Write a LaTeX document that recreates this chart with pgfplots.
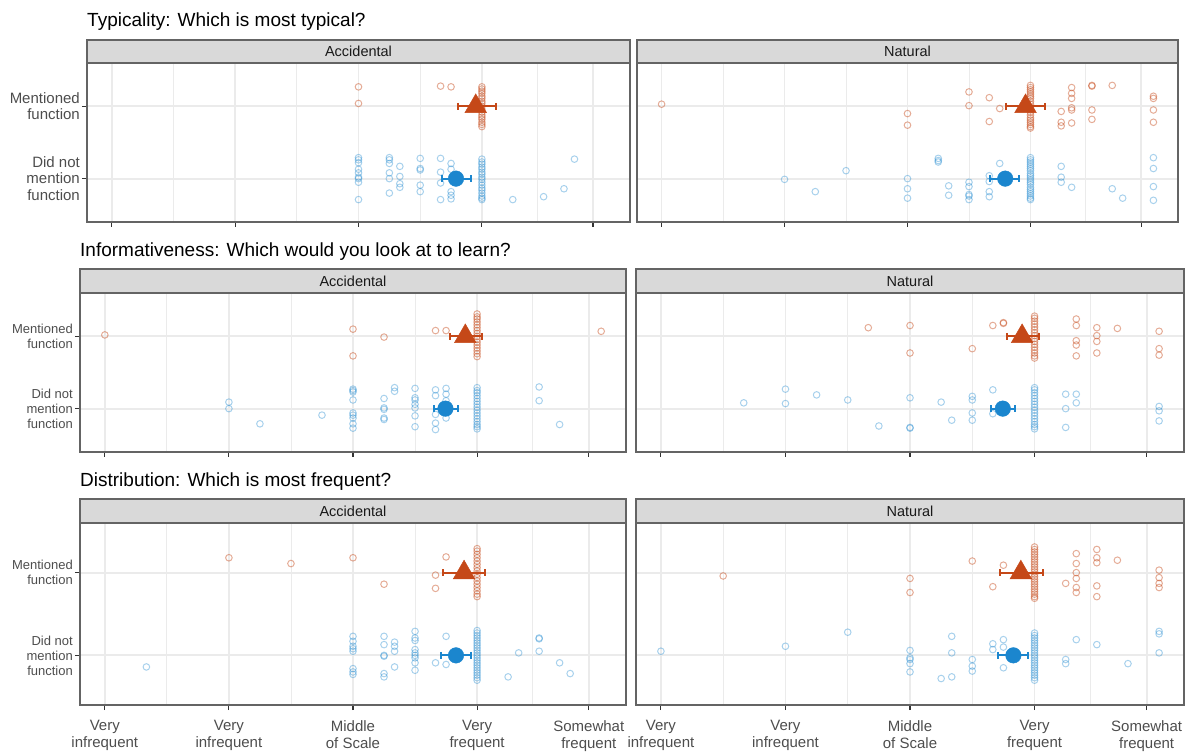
\documentclass[border=0pt]{standalone}
\usepackage{pgfplots}
\pgfplotsset{compat=1.18}
\usepackage{fontspec}
\setmainfont{Liberation Sans}

\definecolor{orangeM}{RGB}{197,72,24}
\definecolor{blueM}{RGB}{27,134,206}
\definecolor{gridgray}{RGB}{235,235,235}
\definecolor{bordergray}{RGB}{100,100,100}
\definecolor{stripgray}{RGB}{217,217,217}
\definecolor{labelgray}{RGB}{77,77,77}
\definecolor{tickgray}{RGB}{51,51,51}

\pgfplotsset{
  facet/.style={
    scale only axis,
    xmin=-0.4, xmax=8.4, ymin=0.4, ymax=2.6,
    xtick={0,2,4,6,7.8}, minor xtick={1,3,5,6.9},
    ytick={1,2},
    tick pos=left, tick align=outside,
    major tick length=5pt, minor tick length=0pt,
    tick style={color=tickgray, line width=1.1pt},
    grid=both,
    major grid style={color=gridgray, line width=1.8pt},
    minor grid style={color=gridgray, line width=0.9pt},
    axis line style={draw=bordergray, line width=1.2pt},
    xticklabels={},
  },
  leftpanel/.style={
    yticklabels={{Did not\\mention\\function},{Mentioned\\function}},
    yticklabel style={align=right, text=labelgray, font=#1, inner sep=2pt},
  },
  rightpanel/.style={yticklabels={}, ytick style={draw=none}},
  bottomrow/.style={
    xticklabels={{Very\\infrequent},{Very\\infrequent},{Middle\\of Scale},{Very\\frequent},{Somewhat\\frequent}},
    xticklabel style={align=center, text=labelgray, font=\fontsize{15}{17}\selectfont, inner sep=2pt, yshift=-8pt},
  },
  jo/.style={only marks, mark=o, mark size=3.3pt,
    mark options={draw=orangeM, draw opacity=0.45, line width=1pt}},
  jb/.style={only marks, mark=o, mark size=3.3pt,
    mark options={draw=blueM, draw opacity=0.38, line width=1pt}},
  barO/.style={orangeM, line width=2pt, mark=|, mark size=3.6pt, mark options={line width=2pt}},
  barB/.style={blueM, line width=2pt, mark=|, mark size=3.6pt, mark options={line width=2pt}},
  meanO/.style={only marks, mark=triangle*, mark size=12.5pt,
    mark options={fill=orangeM, draw=orangeM, line width=0.4pt}},
  meanB/.style={only marks, mark=*, mark size=7.8pt,
    mark options={fill=blueM, draw=blueM, line width=0.4pt}},
}

\newcommand{\strip}[5]{%
  \filldraw[fill=stripgray, draw=bordergray, line width=1.2pt] (#1,#3) rectangle (#2,#4);
  \node[font=\fontsize{14.5}{16}\selectfont, text=black!90] at ({(#1+#2)/2},{(#3+#4)/2}) {#5};}

\begin{document}
\begin{tikzpicture}[x=1pt,y=1pt]
\useasboundingbox (0,0) rectangle (1189,753);

% ---------------- Typicality ----------------
\node[anchor=base west, inner sep=0pt, font=\fontsize{19}{22}\selectfont] at (87,726) {Typicality: Which is most typical?};

\begin{axis}[facet, leftpanel={\fontsize{15}{16.5}\selectfont}, at={(87pt,531pt)}, anchor=south west, width=543pt, height=159pt]
\addplot[jo] coordinates {(4,2.27) (4,2.04) (5.33,2.28) (5.5,2.27)
 (6,2.27) (6,2.24) (6,2.21) (6,2.18) (6,2.14) (6,2.11) (6,2.07) (6,2.04) (6,2.00)
 (6,1.96) (6,1.92) (6,1.88) (6,1.85) (6,1.82) (6,1.78) (6,1.75) (6,1.72)};
\addplot[jb] coordinates {(4,1.29) (4,1.26) (4,1.22) (4,1.13) (4,1.08) (4,1.02) (4,1.00) (4,0.95) (4,0.71)
 (4.5,1.29) (4.5,1.26) (4.5,1.21) (4.5,1.08) (4.5,1.00) (4.5,0.80)
 (4.67,1.17) (4.67,1.03) (4.67,0.93) (4.67,0.88)
 (5,1.28) (5,1.14) (5,1.12) (5,0.91) (5,0.82)
 (5.33,1.28) (5.33,1.09) (5.33,0.94) (5.33,0.71)
 (5.5,1.21) (5.5,1.13) (5.5,0.82) (5.5,0.77) (5.5,0.72)
 (6,1.27) (6,1.23) (6,1.20) (6,1.16) (6,1.13) (6,1.09) (6,1.06) (6,1.02) (6,0.99)
 (6,0.95) (6,0.91) (6,0.87) (6,0.84) (6,0.80) (6,0.76) (6,0.73) (6,0.71)
 (6.5,0.71) (7,0.75) (7.33,0.86) (7.5,1.27)};
\addplot[barB] coordinates {(5.35,1) (5.83,1)};
\addplot[meanB] coordinates {(5.58,1)};
\addplot[barO] coordinates {(5.61,2) (6.23,2)};
\addplot[meanO] coordinates {(5.90,2)};
\end{axis}

\begin{axis}[facet, rightpanel, at={(637pt,531pt)}, anchor=south west, width=541pt, height=159pt]
\addplot[jo] coordinates {(0,2.03) (4,1.90) (4,1.74) (5,2.20) (5,2.01) (5.33,2.12) (5.33,1.79) (5.5,1.97)
 (6,2.29) (6,2.26) (6,2.23) (6,2.20) (6,2.17) (6,2.14) (6,2.11) (6,2.07) (6,2.03) (6,1.99)
 (6,1.95) (6,1.92) (6,1.88) (6,1.84) (6,1.81) (6,1.78) (6,1.75) (6,1.72) (6,1.70)
 (6.5,1.93) (6.5,1.78) (6.5,1.73)
 (6.67,2.26) (6.67,2.18) (6.67,2.11) (6.67,1.98) (6.67,1.95) (6.67,1.77)
 (7,2.29) (7,2.28) (7,1.95) (7,1.82) (7.33,2.29)
 (8,2.14) (8,2.11) (8,1.95) (8,1.78)};
\addplot[jb] coordinates {(2,0.99) (2.5,0.82) (3,1.11) (4,1.00) (4,0.86) (4,0.73)
 (4.5,1.28) (4.5,1.25) (4.5,1.23) (4.67,0.90) (4.67,0.77)
 (5,0.95) (5,0.89) (5,0.78) (5,0.76) (5,0.71)
 (5.33,1.04) (5.33,0.96) (5.33,0.82) (5.33,0.75) (5.5,1.21)
 (6,1.29) (6,1.26) (6,1.23) (6,1.20) (6,1.17) (6,1.14) (6,1.11) (6,1.07) (6,1.04) (6,1.01)
 (6,0.98) (6,0.95) (6,0.92) (6,0.88) (6,0.85) (6,0.82) (6,0.79) (6,0.76) (6,0.73) (6,0.71)
 (6.5,1.17) (6.5,1.02) (6.5,0.95) (6.67,0.88) (7.33,0.86) (7.5,0.73)
 (8,1.29) (8,1.14) (8,0.89) (8,0.70)};
\addplot[barB] coordinates {(5.34,1) (5.81,1)};
\addplot[meanB] coordinates {(5.59,1)};
\addplot[barO] coordinates {(5.61,2) (6.23,2)};
\addplot[meanO] coordinates {(5.92,2)};
\end{axis}

\strip{87}{630}{690}{713}{Accidental}
\strip{637}{1178}{690}{713}{Natural}

% ---------------- Informativeness ----------------
\node[anchor=base west, inner sep=0pt, font=\fontsize{19}{22}\selectfont] at (80,496) {Informativeness: Which would you look at to learn?};

\begin{axis}[facet, leftpanel={\fontsize{13}{15}\selectfont}, at={(80pt,301pt)}, anchor=south west, width=546pt, height=159pt]
\addplot[jo] coordinates {(0,2.02) (4,2.10) (4,1.73) (4.5,1.99) (5.33,2.08) (5.5,2.08) (8,2.07)
 (6,2.31) (6,2.27) (6,2.24) (6,2.20) (6,2.16) (6,2.12) (6,2.08) (6,2.04) (6,2.00)
 (6,1.96) (6,1.92) (6,1.88) (6,1.84) (6,1.80) (6,1.76) (6,1.72)};
\addplot[jb] coordinates {(2,1.09) (2,1.00) (2.5,0.79) (3.5,0.91)
 (4,1.27) (4,1.25) (4,1.23) (4,1.12) (4,0.94) (4,0.91) (4,0.87) (4,0.79) (4,0.73)
 (4.5,1.14) (4.5,1.01) (4.5,0.99) (4.5,0.87) (4.5,0.85) (4.67,1.29) (4.67,1.24)
 (5,1.28) (5,1.15) (5,1.12) (5,1.06) (5,1.01) (5,0.90) (5,0.75)
 (5.33,1.26) (5.33,1.18) (5.33,0.92) (5.33,0.80) (5.33,0.71)
 (5.5,1.28) (5.5,1.20) (5.5,1.11) (5.5,0.87)
 (6,1.29) (6,1.25) (6,1.22) (6,1.18) (6,1.14) (6,1.10) (6,1.06) (6,1.02)
 (6,0.98) (6,0.94) (6,0.90) (6,0.86) (6,0.82) (6,0.78) (6,0.75) (6,0.72)
 (7,1.30) (7,1.11) (7.33,0.78)};
\addplot[barB] coordinates {(5.30,1) (5.69,1)};
\addplot[meanB] coordinates {(5.49,1)};
\addplot[barO] coordinates {(5.56,2) (6.08,2)};
\addplot[meanO] coordinates {(5.81,2)};
\end{axis}

\begin{axis}[facet, rightpanel, at={(636pt,301pt)}, anchor=south west, width=548pt, height=159pt]
\addplot[jo] coordinates {(3.33,2.12) (4,2.15) (4,1.77) (5,1.83) (5.33,2.15) (5.5,2.18) (5.5,2.19)
 (6,2.28) (6,2.25) (6,2.21) (6,2.17) (6,2.13) (6,2.09) (6,2.05) (6,2.01)
 (6,1.97) (6,1.93) (6,1.89) (6,1.85) (6,1.81) (6,1.77) (6,1.73) (6,1.70)
 (6.67,2.24) (6.67,2.15) (6.67,1.94) (6.67,1.88) (6.67,1.73)
 (7,2.12) (7,2.01) (7,1.93) (7,1.77) (7.33,2.11)
 (8,2.07) (8,1.83) (8,1.74)};
\addplot[jb] coordinates {(1.33,1.08) (2,1.27) (2,1.07) (2.5,1.19) (3,1.12) (3.5,0.76)
 (4,1.15) (4,0.74) (4,0.73) (4.5,1.09) (4.67,0.84)
 (5,1.17) (5,1.12) (5,0.94) (5,0.84) (5.33,1.26) (5.33,0.93)
 (6,1.29) (6,1.26) (6,1.22) (6,1.18) (6,1.14) (6,1.10) (6,1.06) (6,1.02)
 (6,0.98) (6,0.94) (6,0.90) (6,0.86) (6,0.82) (6,0.78) (6,0.75) (6,0.72)
 (6.5,1.20) (6.5,1.00) (6.5,0.74) (6.67,1.20) (6.67,1.08)
 (8,1.03) (8,0.97) (8,0.83)};
\addplot[barB] coordinates {(5.30,1) (5.69,1)};
\addplot[meanB] coordinates {(5.49,1)};
\addplot[barO] coordinates {(5.55,2) (6.07,2)};
\addplot[meanO] coordinates {(5.80,2)};
\end{axis}

\strip{80}{626}{460}{484}{Accidental}
\strip{636}{1184}{460}{484}{Natural}

% ---------------- Distribution ----------------
\node[anchor=base west, inner sep=0pt, font=\fontsize{19}{22}\selectfont] at (80,266) {Distribution: Which is most frequent?};

\begin{axis}[facet, bottomrow, leftpanel={\fontsize{13}{15}\selectfont}, at={(80pt,48pt)}, anchor=south west, width=546pt, height=182pt]
\addplot[jo] coordinates {(2,2.18) (3,2.11) (4,2.18) (4.5,1.86) (5.33,1.97) (5.33,1.81) (5.5,2.19)
 (6,2.29) (6,2.26) (6,2.22) (6,2.18) (6,2.14) (6,2.10) (6,2.06) (6,2.02)
 (6,1.98) (6,1.94) (6,1.90) (6,1.86) (6,1.82) (6,1.78) (6,1.74) (6,1.71)};
\addplot[jb] coordinates {(0.67,0.86)
 (4,1.23) (4,1.17) (4,1.11) (4,1.08) (4,1.05) (4,0.84) (4,0.80) (4,0.77)
 (4.5,1.23) (4.5,1.13) (4.5,1.00) (4.5,0.99) (4.5,0.78) (4.5,0.74)
 (4.67,1.16) (4.67,1.11) (4.67,1.05) (4.67,0.86)
 (5,1.29) (5,1.21) (5,1.18) (5,1.07) (5,1.03) (5,1.00) (5,0.97) (5,0.91) (5,0.82)
 (5.33,0.91) (5.5,1.23) (5.5,0.89)
 (6,1.30) (6,1.27) (6,1.24) (6,1.21) (6,1.18) (6,1.15) (6,1.12) (6,1.09) (6,1.06) (6,1.03)
 (6,1.00) (6,0.97) (6,0.94) (6,0.91) (6,0.88) (6,0.85) (6,0.82) (6,0.79) (6,0.76) (6,0.73) (6,0.70)
 (6.5,0.74) (6.67,1.03) (7,1.21) (7,1.20) (7,1.05) (7.33,0.91) (7.5,0.78)};
\addplot[barB] coordinates {(5.42,1) (5.90,1)};
\addplot[meanB] coordinates {(5.66,1)};
\addplot[barO] coordinates {(5.45,2) (6.13,2)};
\addplot[meanO] coordinates {(5.79,2)};
\end{axis}

\begin{axis}[facet, bottomrow, rightpanel, at={(636pt,48pt)}, anchor=south west, width=548pt, height=182pt]
\addplot[jo] coordinates {(1,1.96) (4,1.93) (4,1.76) (5,2.14) (5.33,1.83) (5.5,2.09)
 (6,2.31) (6,2.28) (6,2.25) (6,2.22) (6,2.19) (6,2.16) (6,2.13) (6,2.10) (6,2.07) (6,2.04) (6,2.01)
 (6,1.98) (6,1.95) (6,1.92) (6,1.89) (6,1.86) (6,1.83) (6,1.80) (6,1.77) (6,1.74) (6,1.71) (6,1.69)
 (6.5,1.87)
 (6.67,2.23) (6.67,2.11) (6.67,2.00) (6.67,1.93) (6.67,1.82) (6.67,1.76)
 (7,2.28) (7,2.18) (7,2.12) (7,1.84) (7,1.71) (7.33,2.15)
 (8,2.03) (8,1.94) (8,1.87) (8,1.82)};
\addplot[jb] coordinates {(0,1.05) (2,1.11) (3,1.28)
 (4,1.06) (4,0.97) (4,0.95) (4,0.90) (4,0.80) (4.5,0.72)
 (4.67,1.23) (4.67,1.03) (4.67,0.74) (5,0.95) (5,0.87) (5,0.81)
 (5.33,1.14) (5.33,1.07) (5.5,1.19) (5.5,1.10) (5.5,0.85)
 (6,1.27) (6,1.24) (6,1.21) (6,1.18) (6,1.15) (6,1.12) (6,1.09) (6,1.06) (6,1.03) (6,1.00)
 (6,0.97) (6,0.94) (6,0.91) (6,0.88) (6,0.85) (6,0.82) (6,0.79) (6,0.76) (6,0.73) (6,0.70)
 (6.5,0.95) (6.5,0.90) (6.67,1.19) (7,1.13) (7.5,0.90)
 (8,1.29) (8,1.26) (8,1.03)};
\addplot[barB] coordinates {(5.42,1) (5.90,1)};
\addplot[meanB] coordinates {(5.66,1)};
\addplot[barO] coordinates {(5.45,2) (6.13,2)};
\addplot[meanO] coordinates {(5.78,2)};
\end{axis}

\strip{80}{626}{230}{254}{Accidental}
\strip{636}{1184}{230}{254}{Natural}

\end{tikzpicture}
\end{document}
